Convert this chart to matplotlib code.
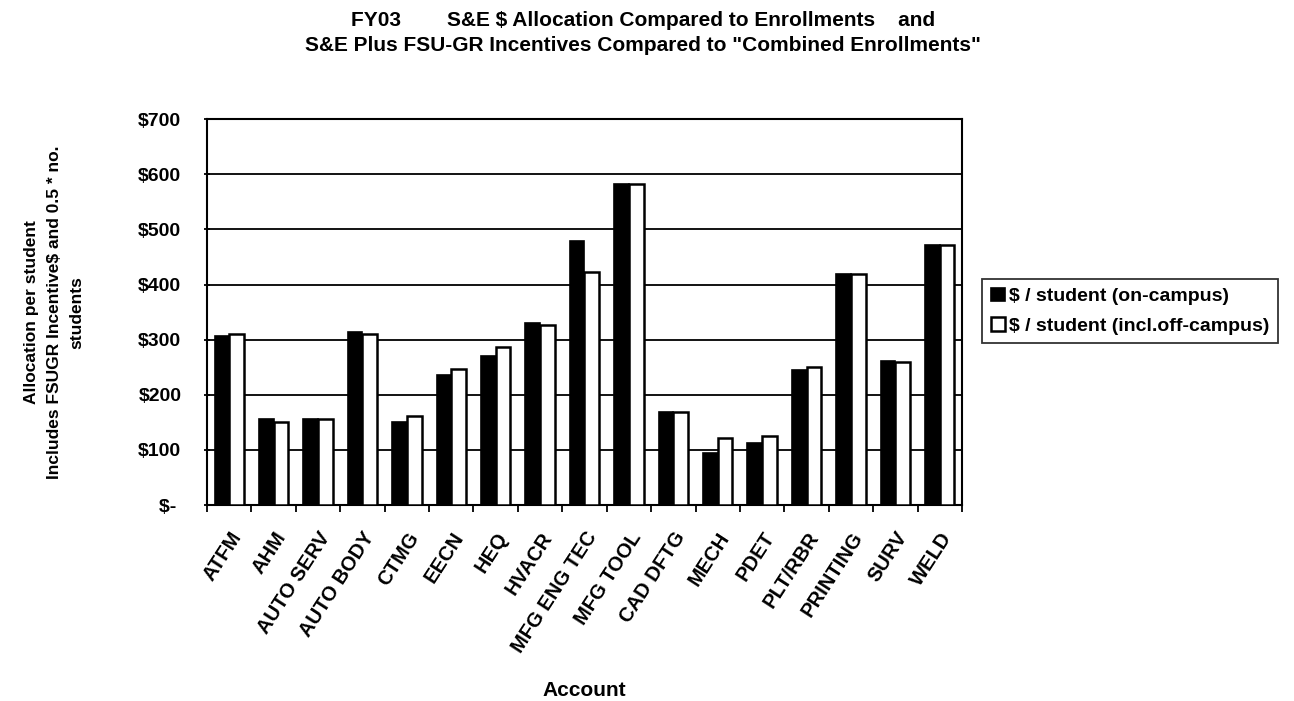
import numpy as np
import matplotlib
matplotlib.use("Agg")
import matplotlib.pyplot as plt
from matplotlib.ticker import FixedLocator

# data
accounts = ["ATFM", "AHM", "AUTO SERV", "AUTO BODY", "CTMG", "EECN", "HEQ",
            "HVACR", "MFG ENG TEC", "MFG TOOL", "CAD DFTG", "MECH", "PDET",
            "PLT/RBR", "PRINTING", "SURV", "WELD"]
on_campus = [306, 156, 156, 314, 150, 235, 270, 330, 479, 582, 168, 94, 112,
             245, 420, 261, 471]
incl_off_campus = [310, 150, 156, 311, 162, 247, 286, 327, 423, 582, 168, 122,
                   125, 250, 420, 259, 471]
yticks = [0, 100, 200, 300, 400, 500, 600, 700]
ytick_labels = ["$- ", "$100", "$200", "$300", "$400", "$500", "$600", "$700"]

plt.rcParams['font.family'] = ['Liberation Sans', 'DejaVu Sans']
plt.rcParams['font.weight'] = 'bold'

fig = plt.figure(figsize=(12.94, 7.01), dpi=100)
ax = fig.add_axes([0.16, 0.2796, 0.5834, 0.5504])

x = np.arange(len(accounts))
w = 0.33
ax.bar(x - w / 2, on_campus, w, color='black', edgecolor='black', linewidth=1.2,
       label='$ / student (on-campus)', zorder=3)
ax.bar(x + w / 2, incl_off_campus, w, color='white', edgecolor='black', linewidth=1.8,
       label='$ / student (incl.off-campus)', zorder=3)

ax.set_xlim(-0.5, len(accounts) - 0.5)
ax.set_ylim(0, 700)
ax.set_yticks(yticks)
ax.set_yticklabels(ytick_labels, fontsize=14, fontweight='bold')
ax.yaxis.grid(True, color='black', linewidth=1.3, zorder=0)
ax.set_axisbelow(True)

ax.set_xticks(x)
ax.set_xticklabels(accounts, rotation=57, ha='right', va='top',
                   rotation_mode='anchor', fontsize=14.5, fontweight='bold')
ax.tick_params(axis='x', which='major', length=0, pad=17)
ax.xaxis.set_minor_locator(FixedLocator(np.arange(-0.5, len(accounts), 1.0)))
ax.tick_params(axis='x', which='minor', length=5, width=1.3, direction='out')
ax.tick_params(axis='y', length=5, width=1.3, direction='inout', pad=16)

for s in ax.spines.values():
    s.set_linewidth(1.5)

ax.set_xlabel('Account', fontsize=15, fontweight='bold')
ax.xaxis.set_label_coords(0.5, -0.455)
ax.set_ylabel('Allocation per student\nIncludes FSUGR Incentive$ and 0.5 * no.\nstudents',
              fontsize=12.5, fontweight='bold', linespacing=1.65)
ax.yaxis.set_label_coords(-0.162, 0.5)

fig.text(0.497, 0.971, 'FY03        S&E $ Allocation Compared to Enrollments    and',
         ha='center', va='center', fontsize=15, fontweight='bold')
fig.text(0.497, 0.935, 'S&E Plus FSU-GR Incentives Compared to "Combined Enrollments"',
         ha='center', va='center', fontsize=15, fontweight='bold')

leg = fig.legend(loc='center left', bbox_to_anchor=(0.759, 0.556), frameon=True,
                 fancybox=False, edgecolor='black', fontsize=14,
                 handlelength=0.7, handleheight=0.7, handletextpad=0.25,
                 borderpad=0.45, labelspacing=0.6, borderaxespad=0)
leg.get_frame().set_linewidth(1.3)

fig.savefig('out.png', dpi=100)
